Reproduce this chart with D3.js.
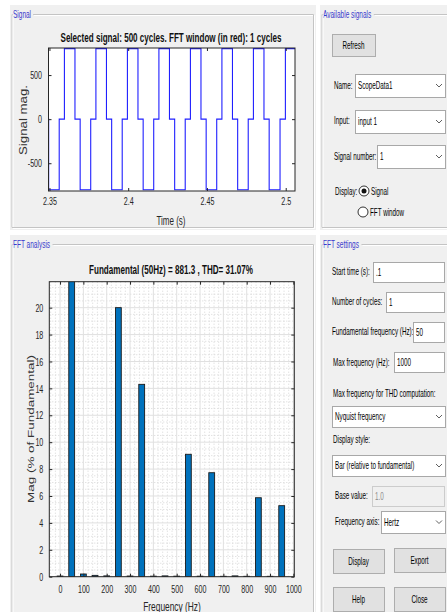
<!DOCTYPE html>
<html>
<head>
<meta charset="utf-8">
<script src="https://cdn.jsdelivr.net/npm/d3@7"></script>
<style>
  body { margin: 0; background: #fff; }
  svg { display: block; }
</style>
</head>
<body>
<svg id="fig" width="447" height="612"></svg>
<script>
// ---- data ----
// step signal: level holds from each time until the next one
const sigTimes = [2.349, 2.3495,
  2.3562, 2.3595, 2.3662, 2.3695,
  2.3762, 2.3795, 2.3862, 2.3895,
  2.3962, 2.3995, 2.4062, 2.4095,
  2.4162, 2.4195, 2.4262, 2.4295,
  2.4362, 2.4395, 2.4462, 2.4495,
  2.4562, 2.4595, 2.4662, 2.4695,
  2.4762, 2.4795, 2.4862, 2.4895,
  2.4964, 2.4998, 2.5065];
const sigLevels = [0, -800,
  0, 800, 0, -800,
  0, 800, 0, -800,
  0, 800, 0, -800,
  0, 800, 0, -800,
  0, 800, 0, -800,
  0, 800, 0, -800,
  0, 800, 0, -800,
  0, 800, 800];
const sigXTicks = [2.35, 2.4, 2.45, 2.5];
const sigYTicks = [-500, 0, 500];

const fftFreqs = [0, 50, 100, 150, 200, 250, 300, 350, 400, 450,
  500, 550, 600, 650, 700, 750, 800, 850, 900, 950];
const fftMags = [0.05, 100, 0.2, 0.1, 0.06, 20.0, 0.05, 14.3, 0.04, 0.06,
  0.04, 9.1, 0.04, 7.73, 0.03, 0.06, 0.03, 5.87, 0.03, 5.28];
const fftXTicks = [0, 100, 200, 300, 400, 500, 600, 700, 800, 900, 1000];
const fftYTicks = [0, 2, 4, 6, 8, 10, 12, 14, 16, 18, 20];

const FONT = "'Liberation Sans', Arial, Helvetica, sans-serif";
const svg = d3.select("#fig");

// text helper: MATLAB GUI text looks horizontally squeezed
function txt(g, x, y, s, o = {}) {
  const sx = o.sx ?? 0.6;
  const t = g.append("text")
    .attr("transform", `translate(${x},${y}) scale(${sx},1)` + (o.rot ? " rotate(-90)" : ""))
    .attr("font-family", FONT)
    .attr("font-size", o.size ?? 10.5)
    .attr("font-weight", o.weight ?? "normal")
    .attr("text-anchor", o.anchor ?? "start")
    .attr("fill", o.fill ?? "#000")
    .text(s);
  if (o.len) t.attr("textLength", o.rot ? o.len : o.len / sx).attr("lengthAdjust", "spacingAndGlyphs");
  return t;
}

function panel(x, y, w, h, title) {
  const g = svg.append("g");
  g.append("rect").attr("x", x).attr("y", y).attr("width", w).attr("height", h).attr("fill", "#f0f0f0");
  const ly = y + 9.5;
  const t = txt(g, x + 3, ly + 3.5, title, { fill: "#3a3acc", sx: 0.62 });
  const tw = t.node().getBBox().width * 0.62;
  const edge = (x1, y1, x2, y2) => {
    g.append("line").attr("x1", x1).attr("y1", y1).attr("x2", x2).attr("y2", y2)
      .attr("stroke", "#c4c4c4");
    g.append("line").attr("x1", x1 + 1).attr("y1", y1 + 1).attr("x2", x2 + 1).attr("y2", y2 + 1)
      .attr("stroke", "#fff");
  };
  edge(x + 2, ly, x + 2.5, ly);
  edge(x + tw + 5, ly, x + w - 2.5, ly);
  edge(x + 2, ly, x + 2, y + h - 2.5);
  edge(x + w - 2.5, ly, x + w - 2.5, y + h - 2.5);
  edge(x + 2, y + h - 2.5, x + w - 2.5, y + h - 2.5);
  return g;
}

function button(g, x, y, w, h, label) {
  g.append("rect").attr("x", x + 0.5).attr("y", y + 0.5).attr("width", w).attr("height", h)
    .attr("fill", "#e1e1e1").attr("stroke", "#adadad");
  txt(g, x + w / 2, y + h / 2 + 3.5, label, { anchor: "middle" });
}

function editBox(g, x, y, w, h, value, disabled) {
  g.append("rect").attr("x", x + 0.5).attr("y", y + 0.5).attr("width", w).attr("height", h)
    .attr("fill", disabled ? "#f0f0f0" : "#fff").attr("stroke", disabled ? "#cccccc" : "#a8a8a8");
  txt(g, x + 3, y + h / 2 + 3.5, value, { fill: disabled ? "#8c8c8c" : "#000" });
}

function dropdown(g, x, y, w, h, value) {
  g.append("rect").attr("x", x + 0.5).attr("y", y + 0.5).attr("width", w).attr("height", h)
    .attr("fill", "#fff").attr("stroke", "#a8a8a8");
  txt(g, x + 3, y + h / 2 + 3.5, value);
  const cx = x + w - 6, cy = y + h / 2;
  g.append("polyline").attr("points", `${cx - 3},${cy - 1.5} ${cx},${cy + 1.5} ${cx + 3},${cy - 1.5}`)
    .attr("fill", "none").attr("stroke", "#606060");
}

function radio(g, cx, cy, checked, label) {
  g.append("circle").attr("cx", cx).attr("cy", cy).attr("r", 5)
    .attr("fill", "#fff").attr("stroke", "#333");
  if (checked) g.append("circle").attr("cx", cx).attr("cy", cy).attr("r", 2.5).attr("fill", "#111");
  txt(g, cx + 7, cy + 3.5, label);
}

// ---- panels ----
panel(10, 5, 306, 225, "Signal");
panel(10, 235, 306, 390, "FFT analysis");
const pa = panel(320, 5, 130, 225, "Available signals");
const pf = panel(320, 235, 130, 390, "FFT settings");

// ---- available signals controls ----
button(pa, 332, 34, 43, 22, "Refresh");
txt(pa, 334, 89, "Name:");
dropdown(pa, 355, 74, 90, 23, "ScopeData1");
txt(pa, 334, 124, "Input:");
dropdown(pa, 355, 110, 90, 23, "input 1");
txt(pa, 334, 160, "Signal number:");
dropdown(pa, 377, 145, 68, 23, "1");
txt(pa, 335, 195, "Display:");
radio(pa, 364, 191, true, "Signal");
radio(pa, 363, 212, false, "FFT window");

// ---- FFT settings controls ----
txt(pf, 332, 275, "Start time (s):");
editBox(pf, 373, 262, 71, 20, ".1");
txt(pf, 332, 305, "Number of cycles:");
editBox(pf, 386, 292, 58, 20, "1");
txt(pf, 332, 335, "Fundamental frequency (Hz):");
editBox(pf, 413, 322, 31, 20, "50");
txt(pf, 333, 366, "Max frequency (Hz):");
editBox(pf, 394, 352, 50, 20, "1000");
txt(pf, 333, 397, "Max frequency for THD computation:");
dropdown(pf, 332, 406, 113, 21, "Nyquist frequency");
txt(pf, 333, 443, "Display style:");
dropdown(pf, 332, 455, 113, 21, "Bar (relative to fundamental)");
txt(pf, 335, 499, "Base value:");
editBox(pf, 372, 486, 72, 20, "1.0", true);
txt(pf, 335, 525, "Frequency axis:");
dropdown(pf, 381, 511, 64, 22, "Hertz");
button(pf, 333, 549, 51, 24, "Display");
button(pf, 394, 548, 51, 24, "Export");
button(pf, 333, 587, 51, 24, "Help");
button(pf, 394, 587, 51, 24, "Close");

// ---- axes helpers ----
function styleAxis(ax, sx, dx) {
  ax.select(".domain").remove();
  ax.selectAll(".tick line").attr("stroke", "#262626");
  ax.selectAll(".tick text")
    .attr("font-family", FONT).attr("font-size", 11.5).attr("fill", "#262626")
    .attr("transform", `scale(${sx},1)`);
  if (dx !== undefined) ax.selectAll(".tick text").attr("x", dx / sx);
}

// ---- signal plot ----
const sL = 48.5, sR = 295, sT = 48, sB = 191;
const sx = d3.scaleLinear().domain([2.3494, 2.5059]).range([sL, sR]);
const sy = d3.scaleLinear().domain([-815, 807]).range([sB, sT]);
const gs = svg.append("g");
gs.append("rect").attr("x", sL).attr("y", sT).attr("width", sR - sL).attr("height", sB - sT).attr("fill", "#fff");
gs.append("clipPath").attr("id", "clipS").append("rect")
  .attr("x", sL).attr("y", sT - 1).attr("width", sR - sL).attr("height", sB - sT + 2);
const sigPts = sigTimes.map((t, i) => [t, sigLevels[i]]);
gs.append("path").datum(sigPts)
  .attr("clip-path", "url(#clipS)")
  .attr("d", d3.line().x(d => sx(d[0])).y(d => sy(d[1])).curve(d3.curveStepAfter))
  .attr("fill", "none").attr("stroke", "#1f1fff").attr("stroke-width", 1.1);

let ax = gs.append("g").attr("transform", `translate(0,${sB})`)
  .call(d3.axisBottom(sx).tickValues(sigXTicks).tickSize(-3).tickPadding(6).tickFormat(d => String(d)));
styleAxis(ax, 0.62);
ax = gs.append("g").attr("transform", `translate(0,${sT})`)
  .call(d3.axisTop(sx).tickValues(sigXTicks).tickSize(-3).tickFormat(""));
styleAxis(ax, 1);
ax = gs.append("g").attr("transform", `translate(${sL},0)`)
  .call(d3.axisLeft(sy).tickValues(sigYTicks).tickSize(-3).tickFormat(d => String(d)));
styleAxis(ax, 0.62, -6.5);
ax = gs.append("g").attr("transform", `translate(${sR},0)`)
  .call(d3.axisRight(sy).tickValues(sigYTicks).tickSize(-3).tickFormat(""));
styleAxis(ax, 1);
gs.append("rect").attr("x", sL).attr("y", sT).attr("width", sR - sL).attr("height", sB - sT)
  .attr("fill", "none").attr("stroke", "#262626");

txt(gs, 171, 42, "Selected signal: 500 cycles. FFT window (in red): 1 cycles",
  { anchor: "middle", weight: "bold", size: 12, len: 221, sx: 0.62, fill: "#111" });
txt(gs, 171, 225, "Time (s)", { anchor: "middle", size: 12.5, sx: 0.64, fill: "#262626" });
txt(gs, 26.5, 120, "Signal mag.", { anchor: "middle", size: 12.5, sx: 0.85, rot: true, len: 70, fill: "#333" });

// ---- FFT bar plot ----
const fL = 49.3, fR = 294.3, fT = 281.7, fB = 576.7;
const fx = d3.scaleLinear().domain([-46, 1004]).range([fL, fR]);
const fy = d3.scaleLinear().domain([0, 21.93]).range([fB, fT]);
const gf = svg.append("g");
gf.append("rect").attr("x", fL).attr("y", fT).attr("width", fR - fL).attr("height", fB - fT).attr("fill", "#fff");
gf.append("clipPath").attr("id", "clipF").append("rect")
  .attr("x", fL).attr("y", fT).attr("width", fR - fL).attr("height", fB - fT);

// minor grid (dotted)
const minorX = d3.range(-40, 1001, 20).filter(v => v % 100 !== 0);
const minorY = d3.range(0.5, 21.9, 0.5).filter(v => v % 2 !== 0);
gf.append("g").selectAll("line").data(minorX).join("line")
  .attr("x1", d => fx(d)).attr("x2", d => fx(d)).attr("y1", fT).attr("y2", fB)
  .attr("stroke", "#d6d6d6").attr("stroke-dasharray", "1,2");
gf.append("g").selectAll("line").data(minorY).join("line")
  .attr("y1", d => fy(d)).attr("y2", d => fy(d)).attr("x1", fL).attr("x2", fR)
  .attr("stroke", "#d6d6d6").attr("stroke-dasharray", "1,2");
// major grid
gf.append("g").selectAll("line").data(fftXTicks).join("line")
  .attr("x1", d => fx(d)).attr("x2", d => fx(d)).attr("y1", fT).attr("y2", fB)
  .attr("stroke", "#e0e0e0");
gf.append("g").selectAll("line").data(fftYTicks).join("line")
  .attr("y1", d => fy(d)).attr("y2", d => fy(d)).attr("x1", fL).attr("x2", fR)
  .attr("stroke", "#e0e0e0");

// bars
const halfW = 12.5;
gf.append("g").attr("clip-path", "url(#clipF)")
  .selectAll("rect").data(fftFreqs.map((f, i) => ({ f, m: fftMags[i] }))).join("rect")
  .attr("x", d => fx(d.f - halfW))
  .attr("width", d => fx(d.f + halfW) - fx(d.f - halfW))
  .attr("y", d => fy(d.m))
  .attr("height", d => fy(0) - fy(d.m))
  .attr("fill", "#0072bd").attr("stroke", "#1a1a1a").attr("stroke-width", 0.9);

ax = gf.append("g").attr("transform", `translate(0,${fB})`)
  .call(d3.axisBottom(fx).tickValues(fftXTicks).tickSize(-3).tickPadding(8).tickFormat(d => String(d)));
styleAxis(ax, 0.62);
ax = gf.append("g").attr("transform", `translate(0,${fT})`)
  .call(d3.axisTop(fx).tickValues(fftXTicks).tickSize(-3).tickFormat(""));
styleAxis(ax, 1);
ax = gf.append("g").attr("transform", `translate(${fL},0)`)
  .call(d3.axisLeft(fy).tickValues(fftYTicks).tickSize(-3).tickFormat(d => String(d)));
styleAxis(ax, 0.62, -6);
ax = gf.append("g").attr("transform", `translate(${fR},0)`)
  .call(d3.axisRight(fy).tickValues(fftYTicks).tickSize(-3).tickFormat(""));
styleAxis(ax, 1);
gf.append("rect").attr("x", fL).attr("y", fT).attr("width", fR - fL).attr("height", fB - fT)
  .attr("fill", "none").attr("stroke", "#262626");

txt(gf, 171, 274, "Fundamental (50Hz) = 881.3 , THD= 31.07%",
  { anchor: "middle", weight: "bold", size: 12, len: 164, sx: 0.62, fill: "#111" });
txt(gf, 172, 611, "Frequency (Hz)", { anchor: "middle", size: 12.5, sx: 0.67, fill: "#262626" });
txt(gf, 33.5, 429, "Mag (% of Fundamental)", { anchor: "middle", size: 11, sx: 0.85, rot: true, len: 148, fill: "#333" });
</script>
</body>
</html>
